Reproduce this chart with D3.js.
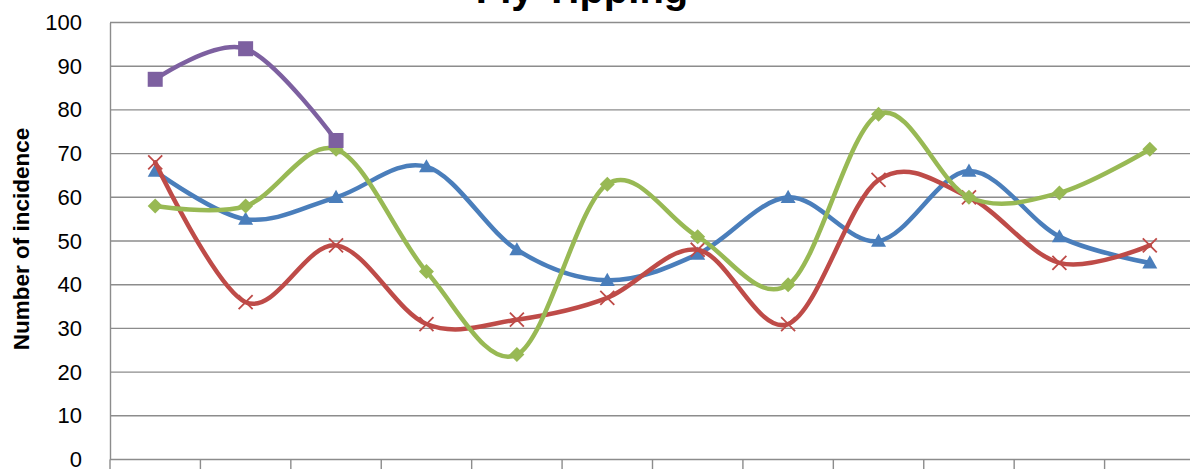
<!DOCTYPE html>
<html>
<head>
<meta charset="utf-8">
<script src="https://cdn.jsdelivr.net/npm/d3@7"></script>
<style>
  html, body { margin: 0; padding: 0; background: #fff; }
  svg { display: block; }
</style>
</head>
<body>
<svg id="chart" width="1190" height="469"></svg>
<script>
const categories = ["1","2","3","4","5","6","7","8","9","10","11","12"];
const yTicks = [0,10,20,30,40,50,60,70,80,90,100];
const seriesBlue   = [66, 55, 60, 67, 48, 41, 47, 60, 50, 66, 51, 45];
const seriesRed    = [68, 36, 49, 31, 32, 37, 48, 31, 64, 60, 45, 49];
const seriesGreen  = [58, 58, 71, 43, 24, 63, 51, 40, 79, 60, 61, 71];
const seriesPurple = [87, 94, 73];

const series = [
  {values: seriesBlue,   color: "#4A7EBB", marker: "triangle"},
  {values: seriesRed,    color: "#BE4B48", marker: "cross"},
  {values: seriesGreen,  color: "#98B954", marker: "diamond"},
  {values: seriesPurple, color: "#7D60A0", marker: "square"}
];

const svg = d3.select("#chart");
const mLeft = 110, mRight = 1195, mTop = 22.5, mBottom = 459.5;

const x = d3.scaleBand().domain(categories).range([mLeft, mRight]);
const y = d3.scaleLinear().domain([0, 100]).range([mBottom, mTop]);

// gridlines
svg.append("g").selectAll("line").data(yTicks.filter(d => d > 0)).join("line")
  .attr("x1", mLeft).attr("x2", 1190)
  .attr("y1", d => y(d)).attr("y2", d => y(d))
  .attr("stroke", "#8c8c8c").attr("stroke-width", 1.4);

// y axis
const yAxis = svg.append("g").attr("transform", `translate(${mLeft},0)`)
  .call(d3.axisLeft(y).tickValues(yTicks).tickSize(0).tickPadding(28));
yAxis.select(".domain").attr("stroke", "#8c8c8c").attr("stroke-width", 1.4);
yAxis.selectAll("text").attr("font-family", "Liberation Sans, Arial, sans-serif")
  .attr("font-size", 22).attr("fill", "#000");

// x axis
const boundaries = categories.map(c => x(c));
const xg = svg.append("g");
xg.append("line").attr("x1", mLeft).attr("x2", 1190).attr("y1", mBottom).attr("y2", mBottom)
  .attr("stroke", "#8c8c8c").attr("stroke-width", 1.6);
xg.selectAll("line.tick").data(boundaries).join("line").attr("class", "tick")
  .attr("x1", d => d).attr("x2", d => d).attr("y1", mBottom).attr("y2", mBottom + 12)
  .attr("stroke", "#8c8c8c").attr("stroke-width", 1.4);

// lines
const line = d3.line()
  .x((d, i) => x(categories[i]) + x.bandwidth() / 2)
  .y(d => y(d))
  .curve(d3.curveCardinal.tension(0));

function drawMarker(g, type, cx, cy, color) {
  if (type === "triangle") {
    const s = 7.5;
    g.append("path").attr("d", `M${cx},${cy - s}L${cx + s},${cy + s * 0.75}L${cx - s},${cy + s * 0.75}Z`)
      .attr("fill", color);
  } else if (type === "diamond") {
    const s = 7.5;
    g.append("path").attr("d", `M${cx},${cy - s}L${cx + s},${cy}L${cx},${cy + s}L${cx - s},${cy}Z`)
      .attr("fill", color);
  } else if (type === "square") {
    const s = 7.5;
    g.append("rect").attr("x", cx - s).attr("y", cy - s).attr("width", 2 * s).attr("height", 2 * s)
      .attr("fill", color);
  } else if (type === "cross") {
    const s = 7;
    g.append("path").attr("d", `M${cx - s},${cy - s}L${cx + s},${cy + s}M${cx + s},${cy - s}L${cx - s},${cy + s}`)
      .attr("stroke", color).attr("stroke-width", 1.8).attr("fill", "none");
  }
}

series.forEach(s => {
  const g = svg.append("g");
  g.append("path").datum(s.values).attr("d", line)
    .attr("fill", "none").attr("stroke", s.color).attr("stroke-width", 4.5)
    .attr("stroke-linejoin", "round").attr("stroke-linecap", "round");
  s.values.forEach((v, i) => {
    drawMarker(g, s.marker, x(categories[i]) + x.bandwidth() / 2, y(v), s.color);
  });
});

// title
svg.append("text").attr("x", 582).attr("y", 3).attr("text-anchor", "middle")
  .attr("font-family", "Liberation Sans, Arial, sans-serif").attr("font-weight", "bold")
  .attr("font-size", 40).attr("fill", "#000").text("Fly Tipping");

// y label
svg.append("text").attr("transform", "translate(29,239) rotate(-90)").attr("text-anchor", "middle")
  .attr("font-family", "Liberation Sans, Arial, sans-serif").attr("font-weight", "bold")
  .attr("font-size", 22.5).attr("fill", "#000").text("Number of incidence");
</script>
</body>
</html>
